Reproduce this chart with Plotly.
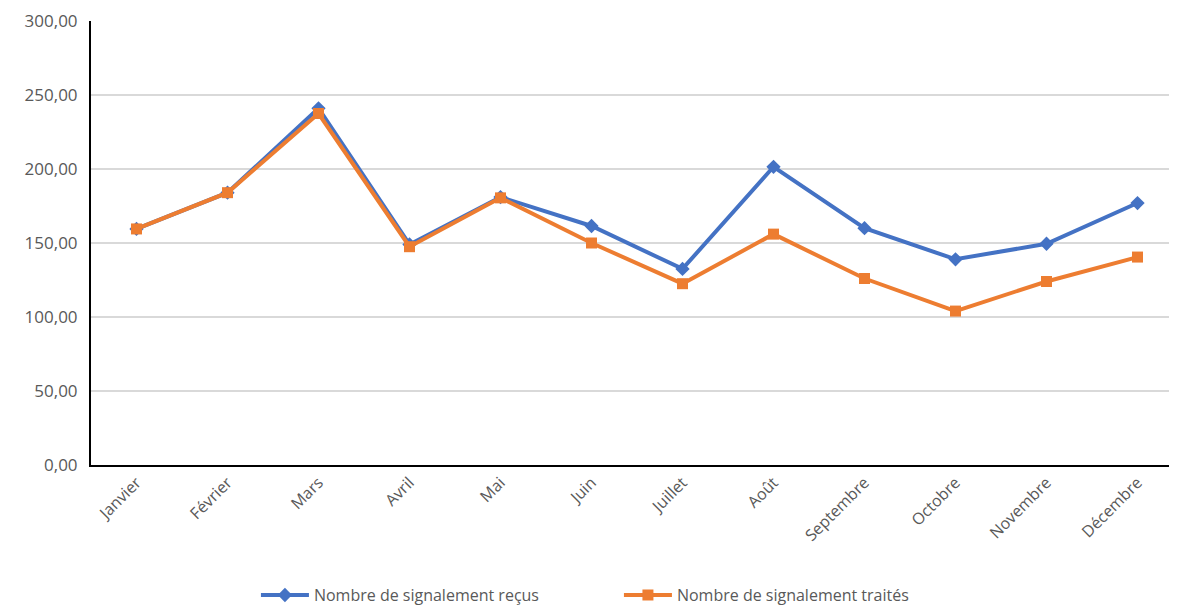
import plotly.graph_objects as go

months = ["Janvier", "Février", "Mars", "Avril", "Mai", "Juin", "Juillet",
          "Août", "Septembre", "Octobre", "Novembre", "Décembre"]
recus = [159.5, 184, 241, 149, 181, 161.5, 132.5, 201.5, 160, 139, 149.5, 177]
traites = [159.5, 184, 237.5, 147.5, 180.5, 150, 122.5, 156, 126, 104, 124, 140.5]

BLUE = "#4472C4"
ORANGE = "#ED7D31"
TXT = "#595959"

fig = go.Figure()
fig.add_trace(go.Scatter(
    x=months, y=recus, name="Nombre de signalement reçus",
    mode="lines+markers",
    line=dict(color=BLUE, width=4),
    marker=dict(symbol="diamond", size=11, color=BLUE),
))
fig.add_trace(go.Scatter(
    x=months, y=traites, name="Nombre de signalement traités",
    mode="lines+markers",
    line=dict(color=ORANGE, width=4),
    marker=dict(symbol="square", size=11, color=ORANGE),
))

fig.update_layout(
    width=1161, height=599,
    margin=dict(l=83, r=0, t=13, b=142, autoexpand=False),
    paper_bgcolor="white", plot_bgcolor="white",
    separators=", ",
    font=dict(family="Open Sans, Liberation Sans, sans-serif", size=16, color=TXT),
    showlegend=True,
    legend=dict(orientation="h", x=0.153, xanchor="left", y=-0.293, yanchor="middle",
                font=dict(size=16, color=TXT), itemwidth=48,
                entrywidth=300, entrywidthmode="pixels",
                traceorder="normal"),
    xaxis=dict(
        type="category", range=[-0.5, 11.346], automargin=False,
        tickangle=-45, showgrid=False, ticks="",
        showline=True, linecolor="black", linewidth=2,
        tickfont=dict(size=16, color=TXT),
    ),
    yaxis=dict(
        range=[0, 300], dtick=50, tickformat=".2f", automargin=False,
        showgrid=True, gridcolor="#D9D9D9", gridwidth=1.5,
        showline=True, linecolor="black", linewidth=2,
        zeroline=False, ticks="", ticklabelstandoff=8,
        tickfont=dict(size=17, color=TXT),
    ),
)

fig.write_html("out.html")
